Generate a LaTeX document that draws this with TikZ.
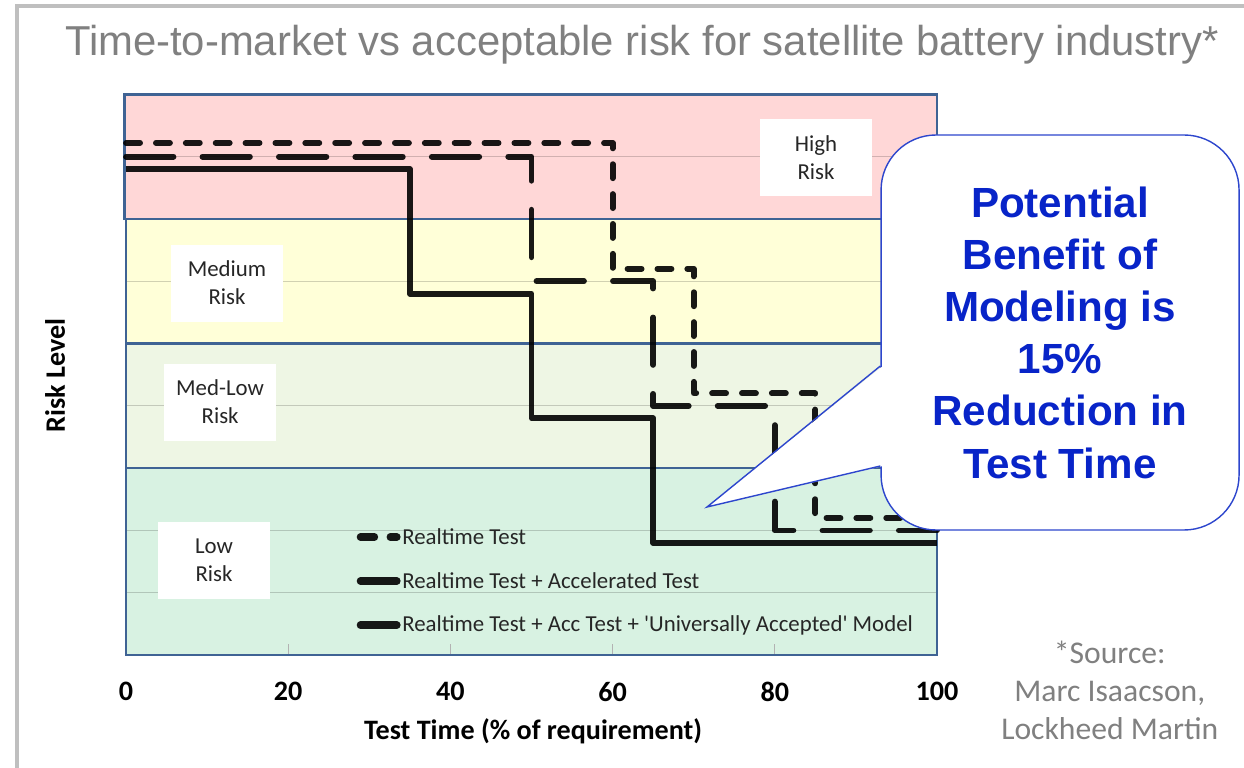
\documentclass[tikz,border=0pt]{standalone}
\usepackage{fontspec}
\setmainfont{Carlito}
\newfontfamily\arialfont{Liberation Sans}
\usetikzlibrary{positioning}
\definecolor{framegrey}{RGB}{191,191,191}
\definecolor{titlegrey}{RGB}{128,128,128}
\definecolor{bandline}{RGB}{63,99,148}
\definecolor{highrisk}{RGB}{255,215,215}
\definecolor{medrisk}{RGB}{255,255,216}
\definecolor{medlowrisk}{RGB}{238,246,228}
\definecolor{lowrisk}{RGB}{216,242,226}
\definecolor{noteblue}{RGB}{45,70,205}
\definecolor{notetext}{RGB}{8,36,200}

\begin{document}
\begin{tikzpicture}[x=0.1622cm, y=1.246cm]
    \tikzset{%
      band/.style={draw=bandline, line width=1.4pt},
      gridline/.style={black, opacity=0.18, line width=0.6pt},
      risklabel/.style={fill=white, inner sep=0pt, minimum width=2.24cm,
        minimum height=1.54cm, align=center, text=black!85,
        font=\fontsize{13}{16}\selectfont},
      curve/.style={line width=3.3pt, line join=round, line cap=round,
        draw opacity=0.9},
      realtime/.style={curve, dash pattern=on 8pt off 9pt},
      accel/.style={curve, dash pattern=on 27pt off 16.5pt},
      model/.style={curve, line cap=butt},
      legsample/.style={line width=4.2pt, line cap=round},
      legtext/.style={anchor=west, inner sep=1pt, text=black!85,
        font=\fontsize{13}{16}\selectfont},
      ticklabel/.style={font=\bfseries\fontsize{16}{19}\selectfont},
    }
    \useasboundingbox (-15.54,-1.798) rectangle (137.85,10.514);
    \draw [framegrey, line width=2.3pt] (-13.44,-1.9) -- (-13.44,10.41) -- (140,10.41);
    \node [text=titlegrey, font=\arialfont\fontsize{23.8}{28}\selectfont]
      (title) at (63.6,9.79) {Time-to-market vs acceptable risk for satellite battery industry*};

    % risk bands
    \fill [lowrisk] (0,0) rectangle (100,3);
    \fill [medlowrisk] (0,3) rectangle (100,5);
    \fill [medrisk] (0,5) rectangle (100,7);
    \fill [highrisk] (0,7) rectangle (100,9);
    \foreach \y in {1,2,4,6,8}
      \draw [gridline] (0,\y) -- (100,\y);
    \foreach \x in {20,40,60,80}
      \draw [black!30, line width=0.6pt] (\x,0) -- (\x,0.18);
    \draw [band] (0,0) rectangle (100,3);
    \draw [band] (0,3) rectangle (100,5);
    \draw [band] (0,5) rectangle (100,7);
    \draw [band] (-0.2,7) rectangle (100,9);

    \node [risklabel] (high) at (85.08,7.98) {High\\Risk};
    \node [risklabel] (medium) at (12.45,5.97) {Medium\\Risk};
    \node [risklabel] (medlow) at (11.6,4.06) {Med-Low\\Risk};
    \node [risklabel] (low) at (10.85,1.52) {Low\\Risk};

    % test time curves
    \draw [realtime] (0,8.22) -- (60,8.22) -- (60,6.2) -- (70,6.2) -- (70,4.2)
      -- (85,4.2) -- (85,2.2) -- (100,2.2);
    \draw [accel] (0,8) -- (50,8) -- (50,6) -- (65,6) -- (65,4) -- (80,4)
      -- (80,2) -- (100,2);
    \draw [model] (0,7.8) -- (35,7.8) -- (35,5.8) -- (50,5.8) -- (50,3.8)
      -- (65,3.8) -- (65,1.8) -- (100,1.8);

    % legend
    \draw [realtime, legsample] (28.9,1.894) -- (33.4,1.894);
    \node [legtext] (leg1) at (33.8,1.894) {Realtime Test};
    \draw [curve, legsample] (28.9,1.188) -- (33.4,1.188);
    \node [legtext] (leg2) at (33.8,1.188) {Realtime Test + Accelerated Test};
    \draw [curve, legsample] (28.9,0.48) -- (33.4,0.48);
    \node [legtext] (leg3) at (33.8,0.48) {Realtime Test + Acc Test +
      \textquotesingle Universally Accepted\textquotesingle{} Model};

    % axes
    \foreach \x in {0,20,...,100}
      \node [ticklabel] (x\x) at (\x,-0.59) {\x};
    \node [ticklabel] (xlabel) at (50.2,-1.22) {Test Time (\% of requirement)};
    \node [ticklabel, rotate=90] (ylabel) at (-8.75,4.49) {Risk Level};
    \node [text=titlegrey, align=center, font=\fontsize{18}{21.8}\selectfont]
      (source) at (121.3,-0.57) {*Source:\\Marc Isaacson,\\Lockheed Martin};

    % callout
    \node [draw=noteblue, line width=0.8pt, fill=white, rounded corners=1.1cm,
      minimum width=7.16cm, minimum height=7.9cm, align=center, text=notetext,
      font=\arialfont\bfseries\fontsize{24}{29.7}\selectfont]
      (note) at (115.17,5.177) {Potential\\Benefit of\\Modeling is\\15\%\\Reduction in\\Test Time};
    \coordinate (tip) at (71.64,2.376);
    \fill [white] ([shift={(1.5pt,-0.67cm)}]note.west) -- (tip)
      -- ([shift={(1.5pt,-2.67cm)}]note.west) -- cycle;
    \draw [noteblue, line width=0.8pt] ([yshift=-0.67cm]note.west) -- (tip)
      -- ([yshift=-2.67cm]note.west);
\end{tikzpicture}
\end{document}
